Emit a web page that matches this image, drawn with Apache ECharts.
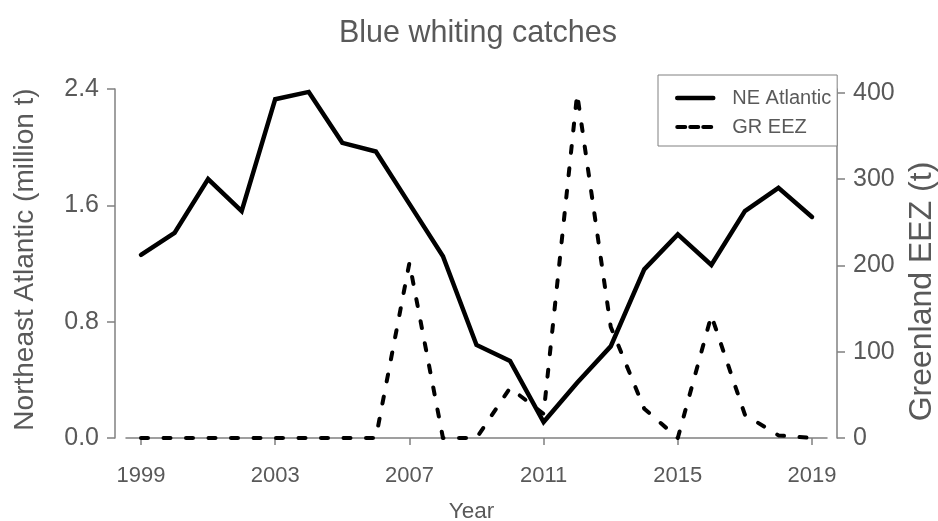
<!DOCTYPE html>
<html>
<head>
<meta charset="utf-8">
<title>Blue whiting catches</title>
<script src="https://cdn.jsdelivr.net/npm/echarts@6/dist/echarts.min.js"></script>
<style>
  html, body { margin: 0; padding: 0; background: #ffffff; }
  #chart { width: 938px; height: 521px; }
</style>
</head>
<body>
<div id="chart"></div>
<script>
// Catch years
const years = [1999, 2000, 2001, 2002, 2003, 2004, 2005, 2006, 2007, 2008, 2009,
               2010, 2011, 2012, 2013, 2014, 2015, 2016, 2017, 2018, 2019];
// Northeast Atlantic catches (million t)
const neAtlantic = [1.26, 1.41, 1.78, 1.56, 2.33, 2.38, 2.03, 1.97, 1.61, 1.25, 0.64,
                    0.53, 0.11, 0.38, 0.63, 1.16, 1.40, 1.19, 1.56, 1.72, 1.52];
// Greenland EEZ catches (t)
const grEez = [0, 0, 0, 0, 0, 0, 0, 0, 203, 0, 0,
               58, 28, 399, 129, 34, 0, 142, 27, 3, 0];

const yearTicks = [1999, 2003, 2007, 2011, 2015, 2019];
const leftTicks = [0, 0.8, 1.6, 2.4];
const rightTicks = [0, 100, 200, 300, 400];

const FONT = '"Liberation Sans", Arial, sans-serif';
const TEXT = '#595959';
const AXIS = '#808080';

const pairs = vals => years.map((y, i) => [y, vals[i]]);

const chart = echarts.init(document.getElementById('chart'), null, { renderer: 'canvas' });

chart.setOption({
  animation: false,
  backgroundColor: '#ffffff',
  textStyle: { fontFamily: FONT, color: TEXT },
  title: {
    text: 'Blue whiting catches',
    left: 478,
    top: 18,
    textAlign: 'center',
    padding: 0,
    textStyle: { fontFamily: FONT, fontSize: 30.5, fontWeight: 'normal', color: TEXT }
  },
  legend: {
    orient: 'vertical',
    left: 658,
    top: 75,
    backgroundColor: '#ffffff',
    borderColor: AXIS,
    borderWidth: 1,
    borderRadius: 0,
    padding: [13, 6, 9, 17],
    itemWidth: 36,
    itemHeight: 14,
    itemGap: 9,
    itemStyle: { color: 'transparent', borderWidth: 0, opacity: 0 },
    textStyle: { fontFamily: FONT, fontSize: 20, color: TEXT, lineHeight: 20, padding: [0, 0, 0, 14] },
    data: [
      { name: 'NE Atlantic', lineStyle: { color: '#000000', width: 4.5, type: 'solid' } },
      { name: 'GR EEZ', lineStyle: { color: '#000000', width: 4, type: [8, 5] } }
    ]
  },
  grid: { left: 126, right: 111, top: 89, bottom: 83, containLabel: false, outerBoundsMode: 'none' },
  xAxis: {
    type: 'value',
    min: 1998.553,
    max: 2019.447,
    offset: 14,
    name: 'Year',
    nameLocation: 'middle',
    nameGap: 48,
    nameTextStyle: { fontFamily: FONT, fontSize: 22.5, color: TEXT, padding: [0, 10, 0, 0] },
    axisLine: { show: true, lineStyle: { color: AXIS, width: 1.5 } },
    axisTick: { show: true, length: 7, customValues: yearTicks, lineStyle: { color: AXIS, width: 1.5 } },
    axisLabel: { customValues: yearTicks, margin: 13, fontFamily: FONT, fontSize: 22, color: TEXT,
                 formatter: v => String(v) },
    splitLine: { show: false }
  },
  yAxis: [
    {
      type: 'value',
      position: 'left',
      min: 0,
      max: 2.4,
      offset: 11,
      name: 'Northeast Atlantic (million t)',
      nameLocation: 'middle',
      nameGap: 76,
      nameTextStyle: { fontFamily: FONT, fontSize: 28, color: TEXT, padding: [0, 0, 0, 8] },
      axisLine: { show: true, lineStyle: { color: AXIS, width: 1.5 } },
      axisTick: { show: true, length: 8, customValues: leftTicks, lineStyle: { color: AXIS, width: 1.5 } },
      axisLabel: { customValues: leftTicks, margin: 16, fontFamily: FONT, fontSize: 25, color: TEXT,
                   formatter: v => v.toFixed(1) },
      splitLine: { show: false }
    },
    {
      type: 'value',
      position: 'right',
      min: 0,
      max: 404.6,
      offset: 10,
      name: 'Greenland EEZ (t)',
      nameLocation: 'middle',
      nameGap: 69,
      nameTextStyle: { fontFamily: FONT, fontSize: 32, color: TEXT, padding: [0, 56, 0, 0] },
      axisLine: { show: true, lineStyle: { color: AXIS, width: 1.5 } },
      axisTick: { show: true, length: 8, customValues: rightTicks, lineStyle: { color: AXIS, width: 1.5 } },
      axisLabel: { customValues: rightTicks, margin: 16, fontFamily: FONT, fontSize: 25, color: TEXT,
                   formatter: v => String(v) },
      splitLine: { show: false }
    }
  ],
  series: [
    {
      name: 'NE Atlantic',
      type: 'line',
      yAxisIndex: 0,
      data: pairs(neAtlantic),
      symbol: 'none',
      z: 3,
      lineStyle: { color: '#000000', width: 4.5, type: 'solid', join: 'miter', cap: 'round' },
      itemStyle: { color: '#000000' }
    },
    {
      name: 'GR EEZ',
      type: 'line',
      yAxisIndex: 1,
      data: pairs(grEez),
      symbol: 'none',
      z: 2,
      lineStyle: { color: '#000000', width: 4, type: [7, 15.5], cap: 'round', join: 'round' },
      itemStyle: { color: '#000000' }
    }
  ]
});
</script>
</body>
</html>
